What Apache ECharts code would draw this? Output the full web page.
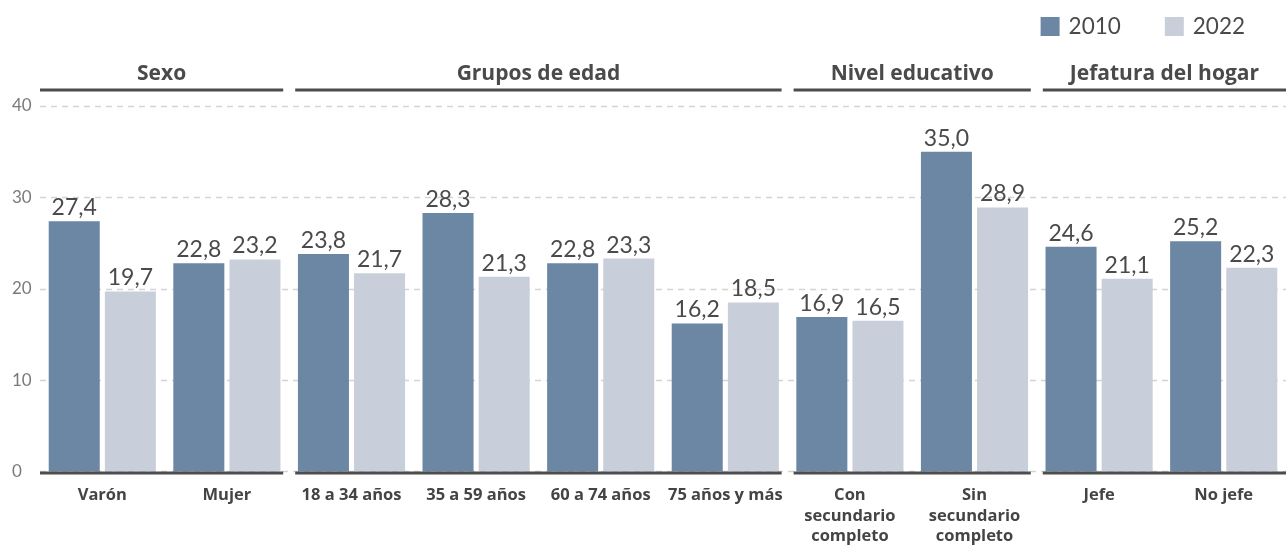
<!DOCTYPE html>
<html>
<head>
<meta charset="utf-8">
<script src="https://cdn.jsdelivr.net/npm/echarts@6/dist/echarts.min.js"></script>
<style>
    html, body { margin: 0; padding: 0; background: #fff; }
    #chart { width: 1286px; height: 547px; }
</style>
</head>
<body>
<div id="chart"></div>
<script>
    // categorias y valores
    var categories = ['Varón', 'Mujer', '18 a 34 años', '35 a 59 años', '60 a 74 años', '75 años y más',
        'Con\nsecundario\ncompleto', 'Sin\nsecundario\ncompleto', 'Jefe', 'No jefe'];
    var values2010 = [27.4, 22.8, 23.8, 28.3, 22.8, 16.2, 16.9, 35.0, 24.6, 25.2];
    var values2022 = [19.7, 23.2, 21.7, 21.3, 23.3, 18.5, 16.5, 28.9, 21.1, 22.3];
    var groupNames = ['Sexo', 'Grupos de edad', 'Nivel educativo', 'Jefatura del hogar'];
    var groupSizes = [2, 4, 2, 2];
    var yTicks = [0, 10, 20, 30, 40];

    var numFont = 'Lato, "Noto Sans", sans-serif';
    var boldFont = '"Open Sans", "Noto Sans", sans-serif';
    var dark = '#4a4a4a';

    function fmt(v) {
        return v.toFixed(1).replace('.', ',');
    }

    var chart = echarts.init(document.getElementById('chart'));

    var labelOpt = {
        show: true,
        position: 'top',
        distance: 2,
        color: dark,
        fontSize: 23,
        fontFamily: numFont,
        fontWeight: 'normal',
        formatter: function (p) { return fmt(p.value); }
    };

    var opt = {
        animation: false,
        legend: {
            top: 10,
            right: 36,
            itemWidth: 19,
            itemHeight: 19,
            itemGap: 44,
            icon: 'rect',
            textStyle: { fontSize: 22.5, color: dark, fontFamily: numFont, fontWeight: 'normal', padding: [0, 0, 0, 4] },
            data: ['2010', '2022']
        },
        grid: { left: 40, right: 0, top: 106, bottom: 75, containLabel: false },
        xAxis: {
            type: 'category',
            data: categories,
            axisLine: { show: false },
            axisTick: { show: false },
            axisLabel: {
                interval: 0,
                margin: 14,
                color: '#444',
                fontSize: 16.5,
                fontWeight: 'bold',
                fontFamily: boldFont,
                lineHeight: 20.5
            }
        },
        yAxis: {
            type: 'value',
            min: yTicks[0],
            max: yTicks[yTicks.length - 1],
            interval: 10,
            axisLine: { show: false },
            axisTick: { show: false },
            axisLabel: { color: '#7a7a7a', fontSize: 17, fontFamily: numFont, align: 'left', margin: 28 },
            splitLine: { lineStyle: { color: '#d4d4d4', type: [6, 5], width: 1.3 } }
        },
        series: [
            {
                name: '2010', type: 'bar', data: values2010,
                itemStyle: { color: '#6b87a3' },
                barCategoryGap: '14%', barGap: '10%',
                label: labelOpt
            },
            {
                name: '2022', type: 'bar', data: values2022,
                itemStyle: { color: '#c8cfdb' },
                label: labelOpt
            }
        ]
    };
    chart.setOption(opt);

    // encabezados de grupo y linea base segmentada
    function drawGroups() {
        var c0 = chart.convertToPixel({ xAxisIndex: 0 }, 0);
        var c1 = chart.convertToPixel({ xAxisIndex: 0 }, 1);
        var w = c1 - c0;
        var yTop = chart.convertToPixel({ yAxisIndex: 0 }, 40) - 16;
        var yBase = chart.convertToPixel({ yAxisIndex: 0 }, 0) + 1.5;
        var elems = [];
        var start = 0;
        for (var g = 0; g < groupNames.length; g++) {
            var end = start + groupSizes[g] - 1;
            var x1 = chart.convertToPixel({ xAxisIndex: 0 }, start) - w / 2 + (start === 0 ? 0 : 6);
            var x2 = chart.convertToPixel({ xAxisIndex: 0 }, end) + w / 2 - (g === groupNames.length - 1 ? 0 : 6);
            [yTop, yBase].forEach(function (y) {
                elems.push({
                    type: 'line', silent: true, z: 10,
                    shape: { x1: x1, y1: y, x2: x2, y2: y },
                    style: { stroke: '#4d4d4d', lineWidth: 3 }
                });
            });
            elems.push({
                type: 'text', silent: true,
                x: (x1 + x2) / 2, y: yTop - 5,
                style: {
                    text: groupNames[g], fill: dark, fontSize: 21, fontWeight: 'bold',
                    fontFamily: boldFont, align: 'center', verticalAlign: 'bottom'
                }
            });
            start = end + 1;
        }
        chart.setOption({ graphic: elems });
    }
    drawGroups();
</script>
</body>
</html>
